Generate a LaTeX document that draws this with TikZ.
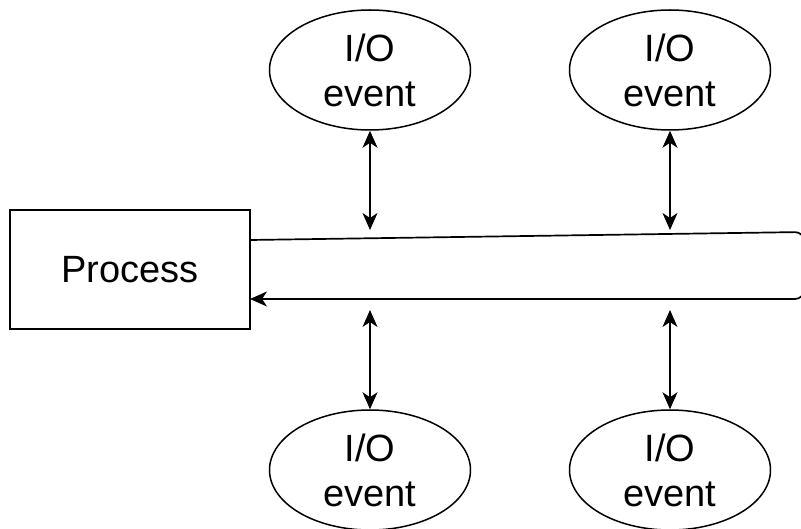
\documentclass[tikz,border=0pt]{standalone}
\usepackage{fontspec}
\setmainfont{Liberation Sans}
\usetikzlibrary{shapes.geometric,arrows.meta}
\begin{document}
\begin{tikzpicture}[x=1pt,y=-1pt,
  every node/.style={font=\fontsize{38}{45}\selectfont},
  line/.style={draw=black,line width=1.7pt},
  tip/.style={-{Stealth[length=17pt,width=15pt,inset=5pt]}},
  twotip/.style={{Stealth[length=17pt,width=15pt,inset=5pt]}-{Stealth[length=17pt,width=15pt,inset=5pt]}},
  event/.style={ellipse,draw=black,line width=1.5pt,minimum width=201pt,minimum height=120pt,inner sep=0pt,align=center},
  procbox/.style={rectangle,draw=black,line width=1.7pt,minimum width=240pt,minimum height=119pt,inner sep=0pt}]
\useasboundingbox (0,0) rectangle (801,529);

% process block and the four event sources
\node[procbox] (proc) at (130,269.5) {Process};
\node[event] (ioTL) at (370,70) {I/O\\event};
\node[event] (ioTR) at (670,70) {I/O\\event};
\node[event] (ioBL) at (370,470) {I/O\\event};
\node[event] (ioBR) at (670,470) {I/O\\event};

% event loop: out along the top, back along the bottom
\coordinate (loopA) at (250,240);
\coordinate (loopB) at (804,232);
\coordinate (loopC) at (804,299);
\coordinate (loopD) at (250,299);
\draw[line,tip,rounded corners=9pt] (loopA) -- (loopB) -- (loopC) -- (loopD);

% two-way links between the loop and each event
\coordinate (tTL) at (370,230);
\coordinate (tTR) at (670,230);
\coordinate (tBL) at (370,310);
\coordinate (tBR) at (670,310);
\draw[line,line width=1.5pt,twotip] (ioTL.south) -- (tTL);
\draw[line,line width=1.5pt,twotip] (ioTR.south) -- (tTR);
\draw[line,line width=1.5pt,twotip] (tBL) -- (ioBL.north);
\draw[line,line width=1.5pt,twotip] (tBR) -- (ioBR.north);
\end{tikzpicture}
\end{document}
